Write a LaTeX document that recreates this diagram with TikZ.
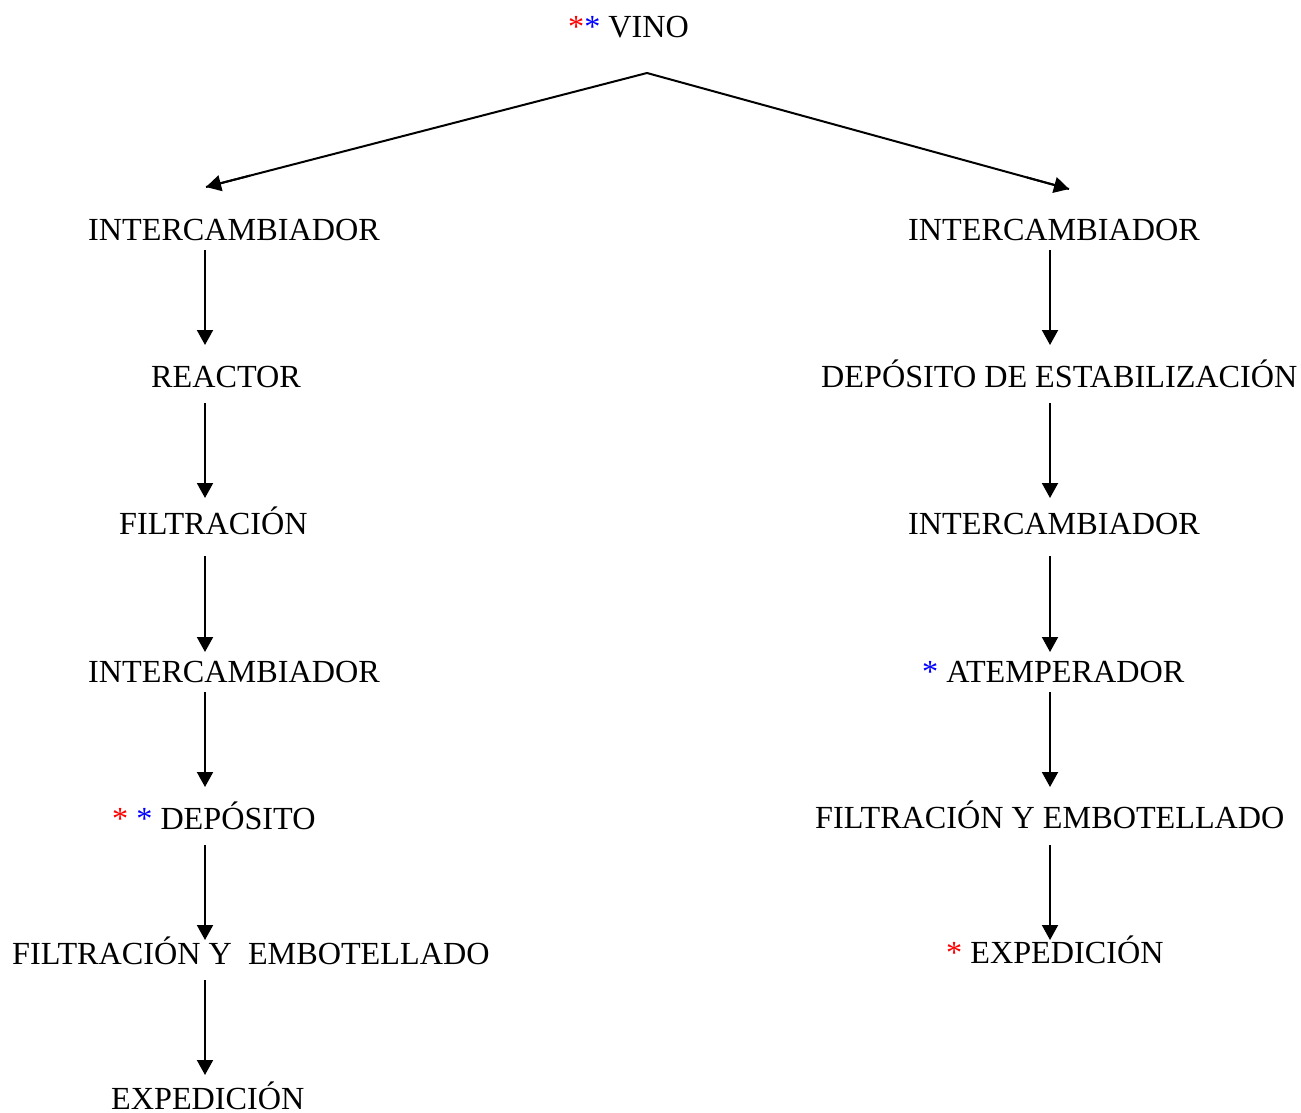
\documentclass[tikz,border=0pt]{standalone}
\usepackage{fontspec}
\setmainfont{Liberation Serif}
\usetikzlibrary{arrows.meta,calc}
\definecolor{astred}{RGB}{255,0,0}
\definecolor{astblue}{RGB}{0,0,255}
\newcommand{\ra}{\textcolor{astred}{*}}
\newcommand{\ba}{\textcolor{astblue}{*}}
\begin{document}
\begin{tikzpicture}[x=1pt,y=-1pt,
  lbl/.style={anchor=base west,inner sep=0pt,font=\fontsize{32.2}{38}\selectfont},
  arr/.style={line width=2pt,-{Triangle[length=15pt,width=16pt]}},
  ln/.style={line width=2pt}]
\useasboundingbox (0,0) rectangle (1301,1113);
\coordinate (colL) at (205,0);
\coordinate (colR) at (1050,0);
% top
\node[lbl] (vino) at (568,38) {\ra\ba{} VINO};
\coordinate (split) at (647,73);
\coordinate (tipL) at (206,187);
\coordinate (tipR) at (1069,189);
% left column
\node[lbl] (l1) at (88,240) {INTERCAMBIADOR};
\node[lbl] (l2) at (151,387) {REACTOR};
\node[lbl] (l3) at (119,534) {FILTRACIÓN};
\node[lbl] (l4) at (88,682) {INTERCAMBIADOR};
\node[lbl] (l5) at (112,829) {\ra{} \ba{} DEPÓSITO};
\node[lbl] (l6) at (12,964) {FILTRACIÓN Y\ \ EMBOTELLADO};
\node[lbl] (l7) at (111,1109) {EXPEDICIÓN};
% right column
\node[lbl] (r1) at (908,240) {INTERCAMBIADOR};
\node[lbl] (r2) at (821,387) {DEPÓSITO DE ESTABILIZACIÓN};
\node[lbl] (r3) at (908,534) {INTERCAMBIADOR};
\node[lbl] (r4) at (922,682) {\ba{} ATEMPERADOR};
\node[lbl] (r5) at (815,828) {FILTRACIÓN Y EMBOTELLADO};
\node[lbl] (r6) at (946,963) {\ra{} EXPEDICIÓN};
% split arrows
\draw[ln] (split) -- (tipL);
\draw[ln] (split) -- (tipR);
\draw[arr] ($(split)!0.9!(tipL)$) -- (tipL);
\draw[arr] ($(split)!0.9!(tipR)$) -- (tipR);
% left arrows
\draw[arr] ($(l1.base -| colL)+(0,10)$) -- ($(l2.base -| colL)+(0,-42)$);
\draw[arr] ($(l2.base -| colL)+(0,16)$) -- ($(l3.base -| colL)+(0,-36)$);
\draw[arr] ($(l3.base -| colL)+(0,22)$) -- ($(l4.base -| colL)+(0,-30)$);
\draw[arr] ($(l4.base -| colL)+(0,10)$) -- ($(l5.base -| colL)+(0,-42)$);
\draw[arr] ($(l5.base -| colL)+(0,16)$) -- ($(l6.base -| colL)+(0,-24)$);
\draw[arr] ($(l6.base -| colL)+(0,16)$) -- ($(l7.base -| colL)+(0,-34)$);
% right arrows
\draw[arr] ($(r1.base -| colR)+(0,10)$) -- ($(r2.base -| colR)+(0,-42)$);
\draw[arr] ($(r2.base -| colR)+(0,16)$) -- ($(r3.base -| colR)+(0,-36)$);
\draw[arr] ($(r3.base -| colR)+(0,22)$) -- ($(r4.base -| colR)+(0,-30)$);
\draw[arr] ($(r4.base -| colR)+(0,10)$) -- ($(r5.base -| colR)+(0,-41)$);
\draw[arr] ($(r5.base -| colR)+(0,17)$) -- ($(r6.base -| colR)+(0,-23)$);
\end{tikzpicture}
\end{document}
